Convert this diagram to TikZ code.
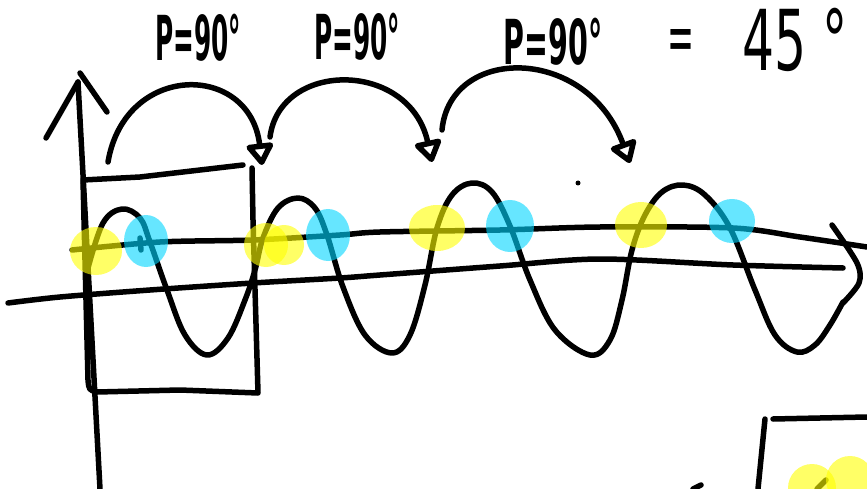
\documentclass[tikz,border=0pt]{standalone}
\usepackage{fontspec}
\setmainfont{DejaVu Sans}
\usetikzlibrary{arrows.meta}
\definecolor{hlyellow}{RGB}{255,255,0}
\definecolor{hlcyan}{RGB}{0,214,255}
\tikzset{ink/.style={line width=5.5pt, line cap=round, line join=round},
  hop/.style={ink, -{Triangle[open, round, length=24pt, width=30pt]}},
  yellowblob/.style={fill=hlyellow, opacity=0.6},
  cyanblob/.style={fill=hlcyan, opacity=0.6},
  handtext/.style={inner sep=0pt, font=\fontsize{62}{62}\selectfont\bfseries}}

\begin{document}
\begin{tikzpicture}[x=1pt, y=-1pt]
\useasboundingbox (0,0) rectangle (867,489);

% phase labels
\node[handtext] (p1) at (198,38) {\scalebox{0.4}[1]{P=90°}};
\node[handtext] (p2) at (357,37) {\scalebox{0.4}[1]{P=90°}};
\node[handtext] (p3) at (553,42) {\scalebox{0.46}[1]{P=90°}};
\node[handtext, font=\fontsize{40}{40}\selectfont] (eq) at (681,46) {\resizebox{27pt}{32pt}{=}};
\node[handtext, font=\fontsize{84}{84}\selectfont] (ans) at (795,40) {\scalebox{0.6}[1]{45\hspace{0.3em}°}};

% axes
\coordinate (o) at (100,489);
\coordinate (top) at (78,82);
\draw[ink] (o) -- (top);
\draw[ink] (46,138) -- (top);
\draw[ink] (80,73) -- (107,112);
\draw[ink] plot[smooth] coordinates {(8,303) (60,297) (150,290) (253,283) (340,278) (380,275) (500,266) (600,259) (733,265) (843,268)};
\draw[ink] plot[smooth] coordinates {(832,225) (857,263) (859,283) (843,303)};

% midline
\draw[ink] plot[smooth] coordinates {(72,250) (160,242) (253,240) (340,235) (380,232) (500,230) (600,227) (733,228) (800,237) (867,247)};

% one period box
\draw[ink] (243,165) -- (140,177) -- (83,180) -- (86,300) -- (88,380)
  .. controls (89,390) .. (97,392) -- (180,390) -- (258,393) -- (253,220) -- (252,168);

% wave
\draw[ink] plot[smooth, tension=0.6] coordinates {(88,268) (103,223) (122,209) (140,218) (150,242)
  (167,290) (185,335) (207,355) (228,338) (245,300) (255,270) (263,238) (278,208) (298,198)
  (315,208) (327,235) (343,287) (365,335) (392,353) (410,335) (425,285) (437,228) (452,195)
  (472,183) (492,192) (510,226) (530,280) (555,330) (590,355) (610,340) (622,300) (632,250)
  (645,215) (662,192) (683,185) (705,195) (730,228) (755,290) (775,335) (797,352) (815,345)
  (830,325) (843,302)};
\draw[ink] (140,238) -- (141,250);
\fill (578,183) circle (2.5);

% shifts
\coordinate (s1) at (108,162);
\coordinate (t1) at (262,165);
\coordinate (s2) at (270,137);
\coordinate (t2) at (432,162);
\coordinate (s3) at (442,130);
\coordinate (t3) at (630,163);
\draw[hop] (s1) .. controls (125,62) and (250,62) .. (t1);
\draw[hop] (s2) .. controls (280,60) and (410,60) .. (t2);
\draw[hop] (s3) .. controls (450,45) and (587,45) .. (t3);

% next box, bottom right
\draw[ink] (765,419) -- (758,489);
\draw[ink] (773,419) -- (867,417);
\draw[ink] (693,489) -- (701,485);
\draw[ink] (817,489) -- (826,480);

% highlights
\fill[yellowblob] (96,251) ellipse (26 and 24);
\fill[cyanblob] (146,241) ellipse (22 and 26);
\fill[yellowblob] (266,245) circle (22);
\fill[yellowblob] (284,245) circle (20);
\fill[cyanblob] (328,235) ellipse (22 and 26);
\fill[yellowblob] (437,228) ellipse (28 and 23);
\fill[cyanblob] (510,226) ellipse (24 and 26);
\fill[yellowblob] (641,225) ellipse (26 and 23);
\fill[cyanblob] (732,221) ellipse (23 and 22);
\fill[yellowblob] (812,488) circle (24);
\fill[yellowblob] (850,480) circle (24);
\end{tikzpicture}
\end{document}
